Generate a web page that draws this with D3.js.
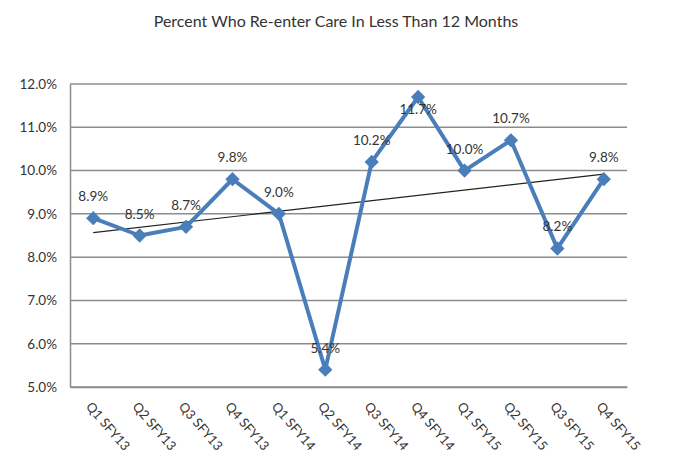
<!DOCTYPE html>
<html>
<head>
<meta charset="utf-8">
<script src="https://cdn.jsdelivr.net/npm/d3@7"></script>
<style>
  body { margin: 0; background: #fff; }
  svg text { font-family: Lato, "Open Sans", sans-serif; fill: #333; }
</style>
</head>
<body>
<svg id="chart" width="679" height="469"></svg>
<script>
// chart data
const quarters = ["Q1 SFY13", "Q2 SFY13", "Q3 SFY13", "Q4 SFY13", "Q1 SFY14", "Q2 SFY14",
  "Q3 SFY14", "Q4 SFY14", "Q1 SFY15", "Q2 SFY15", "Q3 SFY15", "Q4 SFY15"];
const reentry = [8.9, 8.5, 8.7, 9.8, 9.0, 5.4, 10.2, 11.7, 10.0, 10.7, 8.2, 9.8];
const yTicks = [5, 6, 7, 8, 9, 10, 11, 12];
const chartTitle = "Percent Who Re-enter Care In Less Than 12 Months";

const width = 679, height = 469;
const margin = {top: 84, right: 52, bottom: 82, left: 70};

const svg = d3.select("svg#chart");

const x = d3.scaleBand()
  .domain(quarters)
  .range([margin.left, width - margin.right]);

const y = d3.scaleLinear()
  .domain([5, 12])
  .range([height - margin.bottom, margin.top]);

// title
svg.append("text")
  .attr("x", 336).attr("y", 27)
  .attr("text-anchor", "middle")
  .attr("font-size", 16)
  .text(chartTitle);

// gridlines
svg.append("g")
  .selectAll("line")
  .data(yTicks)
  .join("line")
  .attr("x1", margin.left).attr("x2", width - margin.right)
  .attr("y1", d => y(d)).attr("y2", d => y(d))
  .attr("stroke", "#8c8c8c")
  .attr("stroke-width", 1.5);

// y axis
const yAxis = svg.append("g")
  .attr("transform", translate(margin.left, 0))
  .call(d3.axisLeft(y).tickValues(yTicks).tickSize(0).tickPadding(13)
    .tickFormat(d => d.toFixed(1) + "%"));
yAxis.select(".domain").attr("stroke", "#8c8c8c").attr("stroke-width", 1.5);
yAxis.selectAll("text").attr("font-size", 13.5).attr("font-family", "Lato, sans-serif").attr("fill", "#333");

// x axis
const xAxis = svg.append("g")
  .attr("transform", translate(0, height - margin.bottom))
  .call(d3.axisBottom(x).tickSize(0).tickSizeOuter(0));
xAxis.select(".domain").attr("stroke", "#8c8c8c").attr("stroke-width", 1.5);
xAxis.selectAll("text")
  .attr("font-size", 13).attr("font-family", "Lato, sans-serif").attr("fill", "#333")
  .attr("text-anchor", "start")
  .attr("dy", 0).attr("y", 0)
  .attr("transform", "translate(-8,20) rotate(49)");

// linear trend line fitted to the series
const n = reentry.length;
const xMean = d3.mean(d3.range(n));
const yMean = d3.mean(reentry);
const slope = d3.sum(reentry, (v, i) => (i - xMean) * (v - yMean)) /
  d3.sum(d3.range(n), i => (i - xMean) ** 2);
const intercept = yMean - slope * xMean;
const cx = (q) => x(q) + x.bandwidth() / 2;

svg.append("line")
  .attr("x1", cx(quarters[0])).attr("y1", y(intercept))
  .attr("x2", cx(quarters[n - 1])).attr("y2", y(intercept + slope * (n - 1)))
  .attr("stroke", "#222")
  .attr("stroke-width", 1.2);

// data line
const line = d3.line()
  .x((d, i) => cx(quarters[i]))
  .y(d => y(d));

svg.append("path")
  .datum(reentry)
  .attr("d", line)
  .attr("fill", "none")
  .attr("stroke", "#4a7ebb")
  .attr("stroke-width", 4)
  .attr("stroke-linejoin", "round");

// diamond markers
svg.append("g")
  .selectAll("path")
  .data(reentry)
  .join("path")
  .attr("transform", (d, i) => translate(cx(quarters[i]), y(d)))
  .attr("d", d3.symbol(d3.symbolDiamond2, 130))
  .attr("fill", "#4a7ebb");

// data labels
svg.append("g")
  .selectAll("text")
  .data(reentry)
  .join("text")
  .attr("x", (d, i) => cx(quarters[i]))
  .attr("y", d => {
    const above = y(d) - 17;
    return above - 12 < margin.top ? y(d) + 17 : above;
  })
  .attr("text-anchor", "middle")
  .attr("font-size", 13.5)
  .text(d => d.toFixed(1) + "%");

function translate(x, y) {
  return "translate(" + String(x) + "," + String(y) + ")";
}
</script>
</body>
</html>
